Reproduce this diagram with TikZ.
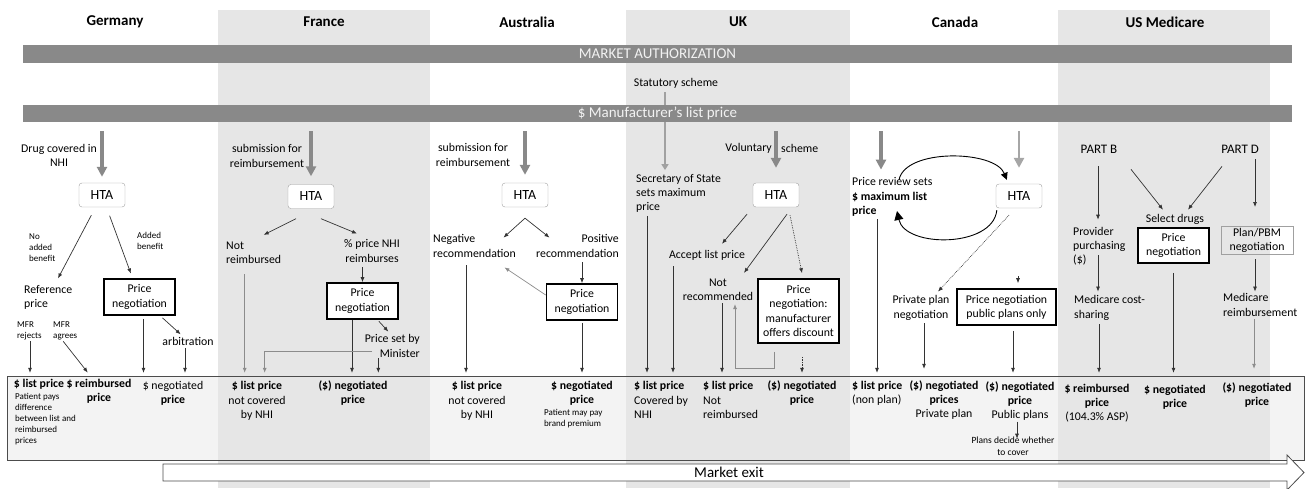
\documentclass[tikz,border=0pt]{standalone}
\usepackage{fontspec}
\setmainfont{Carlito}
\usetikzlibrary{positioning,arrows.meta}

\definecolor{barGray}{RGB}{137,137,137}
\definecolor{colGray}{RGB}{230,230,230}
\definecolor{boxFill}{RGB}{243,243,243}
\definecolor{htaGray}{RGB}{160,160,160}
\definecolor{barText}{RGB}{242,242,242}

\newcommand\bodyfont{\fontsize{11.8}{14.2}\selectfont}
\newcommand\notefont{\fontsize{9}{11}\selectfont}

\begin{document}
\begin{tikzpicture}[
  x=1pt, y=-1pt,
  >={Latex[length=5pt,width=4pt]},
  every node/.style={font=\bodyfont, inner sep=1pt, align=center},
  ltxt/.style={anchor=west, align=left},
  note/.style={font=\notefont, anchor=west, align=left},
  head/.style={font=\fontsize{15}{18}\selectfont\bfseries},
  bar/.style={fill=barGray, text=barText, font=\fontsize{15}{18}\selectfont, minimum width=1269pt, inner sep=0pt},
  hta/.style={draw=htaGray, fill=white, rounded corners=3pt, minimum width=46pt, minimum height=24pt, font=\fontsize{14}{16}\selectfont},
  negbox/.style={draw=black, line width=1.6pt, fill=white, minimum width=71pt, minimum height=36pt},
  bigarr/.style={-{Triangle[length=10pt,width=10pt]}, line width=4pt, draw=barGray, shorten <=9pt},
  conn/.style={->, line width=0.7pt, draw=black!80},
  lightconn/.style={conn, draw=black!45},
  dotconn/.style={conn, densely dotted},
  tobox/.style={conn, shorten >=4pt}
]
\useasboundingbox (0,0) rectangle (1306,488);

% outcome box and country columns
\node[fill=boxFill, minimum width=1296pt, minimum height=83pt, inner sep=0pt] (outbox) at (656,418.5) {};
\foreach \xa/\xb in {218/430,626/850,1058/1270}
  \fill[colGray] (\xa,10) rectangle (\xb,488);
\draw[black!70, line width=0.8pt] (outbox.north west) rectangle (outbox.south east);

% market exit
\draw[black!70, line width=0.8pt, fill=white] (163,464) -- (1287,464) -- (1287,455) -- (1304,472.5) -- (1287,490) -- (1287,481) -- (163,481) -- cycle;
\node[font=\fontsize{15}{18}\selectfont] (mexit) at (729,472.5) {Market exit};

% country names
\node[head] (hger) at (115,22) {Germany};
\node[head] (hfra) at (324,22) {France};
\node[head] (haus) at (527,22) {Australia};
\node[head] (huk) at (738,22) {UK};
\node[head] (hcan) at (955,22) {Canada};
\node[head] (hus) at (1165,22) {US Medicare};

% UK statutory scheme (under the bar)
\node (ukstat) at (676,83) {Statutory scheme};
\node[ltxt] (uksec) at (635,193.5) {Secretary of State\\sets maximum\\price};
\draw[-{Triangle[length=6pt,width=7pt]}, line width=1.8pt, draw=barGray!80, shorten <=3pt, shorten >=3pt]
  ([xshift=-11pt]ukstat.south) -- ([xshift=-11pt]ukstat.south |- uksec.north);

% bars
\node[bar, minimum height=18pt] (auth) at (657.5,54) {MARKET AUTHORIZATION};
\node[bar, minimum height=17pt] (listp) at (657.5,113.5) {\$ Manufacturer’s list price};

% Germany
\node (gerdrug) at (59,155) {Drug covered in\\NHI};
\node[hta] (gerhta) at (102,195) {HTA};
\draw[bigarr, shorten >=6pt] (gerhta.north |- listp.south) -- (gerhta.north);
\node[note] (gernoadd) at (28,248) {No\\added\\benefit};
\node[note] (geradd) at (136,241) {Added\\benefit};
\node[ltxt] (gerref) at (23,297) {Reference\\price};
\node[negbox] (gerneg) at (139.5,297) {Price\\negotiation};
\draw[conn, shorten <=9pt, shorten >=6pt] (gerhta) -- (gerref);
\draw[conn, shorten <=9pt, shorten >=5pt] (gerhta) -- (gerneg);
\node[note] (gerrej) at (16,331) {MFR\\rejects};
\node[note] (geragr) at (52,331) {MFR\\agrees};
\node (gerarb) at (188,341) {arbitration};
\node[font=\bodyfont\bfseries] (gerlistp) at (39,384) {\$ list price};
\node[font=\bodyfont\bfseries] (gerreimp) at (99,391.5) {\$ reimbursed\\price};
\node[note] (gerpay) at (14,419) {Patient pays\\difference\\between list and\\reimbursed\\prices};
\node (gernegp) at (173,393) {\$ negotiated\\\textbf{price}};
\draw[tobox] ([xshift=14pt]gerrej.south west) -- ([xshift=14pt]gerrej.south west |- outbox.north);
\draw[conn, shorten >=2pt] ([xshift=-2pt]geragr.south) -- ([xshift=-10pt,yshift=4pt]gerreimp.north);
\draw[tobox, shorten <=3pt] ([xshift=4pt]gerneg.south) -- ([xshift=4pt]gerneg.south |- outbox.north);
\draw[conn, shorten <=3pt, shorten >=2pt] (gerneg) -- (gerarb);
\draw[tobox, shorten <=2pt] ([xshift=-3pt]gerarb.south) -- ([xshift=-3pt]gerarb.south |- outbox.north);

% France
\node (frsub) at (267,156) {submission for\\reimbursement};
\node[hta] (frhta) at (311,196.5) {HTA};
\draw[bigarr, shorten >=8pt] (frhta.north |- listp.south) -- (frhta.north);
\node[ltxt] (frnot) at (225,253) {Not\\reimbursed};
\node (frpct) at (372,251) {\% price NHI\\reimburses};
\node[negbox] (frneg) at (362.5,301) {Price\\negotiation};
\node[anchor=east, align=right] (frmin) at (421,346) {Price set by\\Minister};
\draw[conn] ([xshift=-15pt,yshift=-10pt]frhta.south) -- ([xshift=10pt,yshift=6pt]frnot.north);
\draw[conn] ([xshift=10pt,yshift=-10pt]frhta.south) -- ([xshift=-15pt,yshift=5pt]frpct.north);
\draw[conn, shorten <=4pt] (frneg.north |- frpct.south) -- (frneg.north);
\draw[lightconn, shorten >=4pt, shorten <=9pt] ([xshift=-9pt]frnot.south) -- ([xshift=-9pt]frnot.south |- outbox.north);
\draw[tobox] ([xshift=-10.5pt]frneg.south) -- ([xshift=-10.5pt]frneg.south |- outbox.north);
\draw[conn, shorten <=2pt] ([xshift=15pt]frneg.south) -- ([xshift=-4pt,yshift=2pt]frmin.north);
\draw[lightconn, shorten >=4pt] ([xshift=-49pt,yshift=-5pt]frmin.east) -| ([xshift=11pt]frnot.south |- outbox.north);
\draw[tobox] ([xshift=-14pt]frmin.south) -- ([xshift=-14pt]frmin.south |- outbox.north);
\node (frlistp) at (257,401) {\textbf{\$ list price}\\not covered\\by NHI};
\node[font=\bodyfont\bfseries] (frnegp) at (353,393) {(\$) negotiated\\price};

% Australia
\node (aussub) at (473,155) {submission for\\reimbursement};
\node[hta] (aushta) at (525,195) {HTA};
\draw[bigarr, shorten >=8pt] (aushta.north |- listp.south) -- (aushta.north);
\node[ltxt] (ausnegrec) at (432,246) {Negative\\recommendation};
\node[anchor=east, align=right] (auspos) at (620,246) {Positive\\recommendation};
\node[negbox] (ausprice) at (582,302) {Price\\negotiation};
\draw[conn] ([yshift=-11pt]aushta.south) -- ([xshift=29pt,yshift=-4pt]ausnegrec.north);
\draw[conn] ([yshift=-11pt]aushta.south) -- ([xshift=-28pt,yshift=-4pt]auspos.north);
\draw[conn, shorten <=4pt] (ausprice.north |- auspos.south) -- (ausprice.north);
\draw[lightconn] ([yshift=7pt]ausprice.west) -- ([xshift=30pt,yshift=-9pt]ausnegrec.south);
\draw[tobox, shorten <=7pt] ([xshift=34pt]ausnegrec.south west) -- ([xshift=34pt]ausnegrec.south west |- outbox.north);
\draw[tobox, shorten <=2pt] (ausprice.south) -- (ausprice.south |- outbox.north);
\node (auslistp) at (477,401) {\textbf{\$ list price}\\not covered\\by NHI};
\node[font=\bodyfont\bfseries] (ausnegp) at (582,393) {\$ negotiated\\price};
\node[note] (auspay) at (543,419) {Patient may pay\\brand premium};

% UK voluntary scheme
\node[hta] (ukhta) at (776,195) {HTA};
\draw[bigarr, shorten >=15pt] (ukhta.north |- listp.south) -- (ukhta.north);
\node[anchor=east] (ukvol) at (773,148) {Voluntary};
\node[right=7pt of ukvol] (uksch) {scheme};
\node (ukacc) at (707,255) {Accept list price};
\node (uknot) at (718,290) {Not\\recommended};
\node[negbox, minimum width=81pt, minimum height=64pt] (ukprice) at (798.5,311) {Price\\negotiation:\\manufacturer\\offers discount};
\draw[conn] ([xshift=-29pt,yshift=-7pt]ukhta.south) -- ([xshift=15pt,yshift=5pt]ukacc.north);
\draw[conn] ([xshift=11pt,yshift=-7pt]ukhta.south) -- ([xshift=26pt,yshift=5pt]uknot.north);
\draw[dotconn] ([xshift=14pt,yshift=-8pt]ukhta.south) -- ([xshift=3.5pt,yshift=5pt]ukprice.north);
\draw[tobox, shorten <=2pt] ([xshift=12pt]uksec.south west) -- ([xshift=12pt]uksec.south west |- outbox.north);
\draw[tobox, shorten <=5pt] ([xshift=-34pt]ukacc.south) -- ([xshift=-34pt]ukacc.south |- outbox.north);
\draw[tobox, shorten <=1pt] ([xshift=4pt]uknot.south) -- ([xshift=4pt]uknot.south |- outbox.north);
\draw[lightconn] ([xshift=-24.5pt,yshift=-8pt]ukprice.south) -- ++(0,17) -| ([xshift=17pt,yshift=-2pt]uknot.south);
\draw[dotconn, shorten >=4pt] ([xshift=3.5pt,yshift=-13pt]ukprice.south) -- ([xshift=3.5pt]ukprice.south |- outbox.north);
\node[ltxt] (uklistp) at (633,400) {\textbf{\$ list price}\\Covered by\\NHI};
\node[ltxt] (uknotp) at (702,400) {\textbf{\$ list price}\\Not\\reimbursed};
\node[font=\bodyfont\bfseries] (uknegp) at (802,393) {(\$) negotiated\\price};

% Canada
\node[ltxt] (canrev) at (851,197) {Price review sets\\\textbf{\$ maximum list}\\\textbf{price}};
\node[hta] (canhta) at (1019,196) {HTA};
\draw[bigarr, shorten >=7pt] ([xshift=30pt]canrev.north west |- listp.south) -- ([xshift=30pt]canrev.north west);
\draw[bigarr, line width=2.5pt, draw=black!35, shorten >=16pt] (canhta.north |- listp.south) -- (canhta.north);
\draw[-{Triangle[length=7pt,width=7pt]}, line width=0.9pt] ([xshift=48pt,yshift=17pt]canrev.west)
  .. controls (905,148) and (995,150) .. ([xshift=11pt,yshift=4pt]canhta.north west);
\draw[-{Triangle[length=9pt,width=9pt]}, line width=0.9pt] ([xshift=1pt,yshift=-2pt]canhta.south west)
  .. controls (993,248) and (905,248) .. ([xshift=46pt,yshift=-14pt]canrev.west);
\node (canpriv) at (921,308) {Private plan\\negotiation};
\node[negbox, minimum width=99pt] (canpub) at (1006.5,307) {Price negotiation\\public plans only};
\draw[dotconn] ([xshift=-10pt,yshift=-7pt]canhta.south) -- ([xshift=17pt,yshift=3pt]canpriv.north);
\draw[conn, shorten >=5pt] ([xshift=11.5pt,yshift=12pt]canpub.north) -- ([xshift=11.5pt]canpub.north);
\draw[tobox, shorten <=2pt] ([xshift=26pt]canrev.south west) -- ([xshift=26pt]canrev.south west |- outbox.north);
\draw[conn, shorten <=2pt, shorten >=8pt] ([xshift=3pt]canpriv.south) -- ([xshift=3pt]canpriv.south |- outbox.north);
\draw[tobox, shorten <=5pt] ([xshift=6.5pt]canpub.south) -- ([xshift=6.5pt]canpub.south |- outbox.north);
\node[ltxt] (canlistp) at (851,393) {\textbf{\$ list price}\\(non plan)};
\node (canprivp) at (944,400) {\textbf{(\$) negotiated}\\\textbf{prices}\\Private plan};
\node (canpubp) at (1020,401) {\textbf{(\$) negotiated}\\\textbf{price}\\Public plans};
\node[font=\fontsize{9.5}{11.5}\selectfont] (cancover) at (1013,446) {Plans decide whether\\to cover};
\draw[conn, shorten >=-3pt] ([xshift=-3pt]canpubp.south) -- ([xshift=-3pt]canpubp.south |- cancover.north);

% US Medicare
\node[font=\fontsize{13}{15}\selectfont] (partb) at (1099,149) {PART B};
\node[font=\fontsize{13}{15}\selectfont] (partd) at (1240,149) {PART D};
\node (ussel) at (1175,219) {Select drugs};
\node[negbox, minimum height=35pt] (usprice) at (1173.5,245.5) {Price\\negotiation};
\node[draw=htaGray, line width=1pt, minimum width=72pt, minimum height=28pt] (usplan) at (1257,240.5) {Plan/PBM\\negotiation};
\node[ltxt] (usprov) at (1072,246) {Provider\\purchasing\\(\$)};
\node[ltxt] (uscost) at (1073,308) {Medicare cost-\\sharing};
\node[ltxt] (usmedr) at (1222,305) {Medicare\\reimbursement};
\draw[conn, shorten <=12pt, shorten >=6pt] ([xshift=-1pt]partb.south) -- ([xshift=-1pt]partb.south |- usprov.north);
\draw[conn] ([xshift=32pt,yshift=-15pt]partb.south) -- ([xshift=-12pt,yshift=3pt]ussel.north);
\draw[conn] ([xshift=-18pt,yshift=-12pt]partd.south) -- ([xshift=13pt,yshift=3pt]ussel.north);
\draw[conn, shorten <=5pt, shorten >=19pt] ([xshift=15pt]partd.south) -- ([xshift=15pt]partd.south |- usplan.north);
\draw[conn, shorten >=3pt] ([xshift=26pt,yshift=11pt]usprov.south west) -- ([xshift=26pt]usprov.south west |- uscost.north);
\draw[conn, shorten <=4pt, shorten >=1pt] ([xshift=-2pt]usplan.south) -- ([xshift=-2pt]usplan.south |- usmedr.north);
\draw[tobox, shorten <=9pt] (usprice.south) -- (usprice.south |- outbox.north);
\draw[tobox, shorten <=3pt] ([xshift=26pt]uscost.south west) -- ([xshift=26pt]uscost.south west |- outbox.north);
\draw[lightconn, shorten <=2pt, shorten >=8pt] ([xshift=32pt]usmedr.south west) -- ([xshift=32pt]usmedr.south west |- outbox.north);
\node (usreimp) at (1097,403) {\textbf{\$ reimbursed}\\\textbf{price}\\(104.3\% ASP)};
\node[font=\bodyfont\bfseries] (usnegp) at (1175,397) {\$ negotiated\\price};
\node[font=\bodyfont\bfseries] (usplanp) at (1257,395) {(\$) negotiated\\price};

\end{tikzpicture}
\end{document}
